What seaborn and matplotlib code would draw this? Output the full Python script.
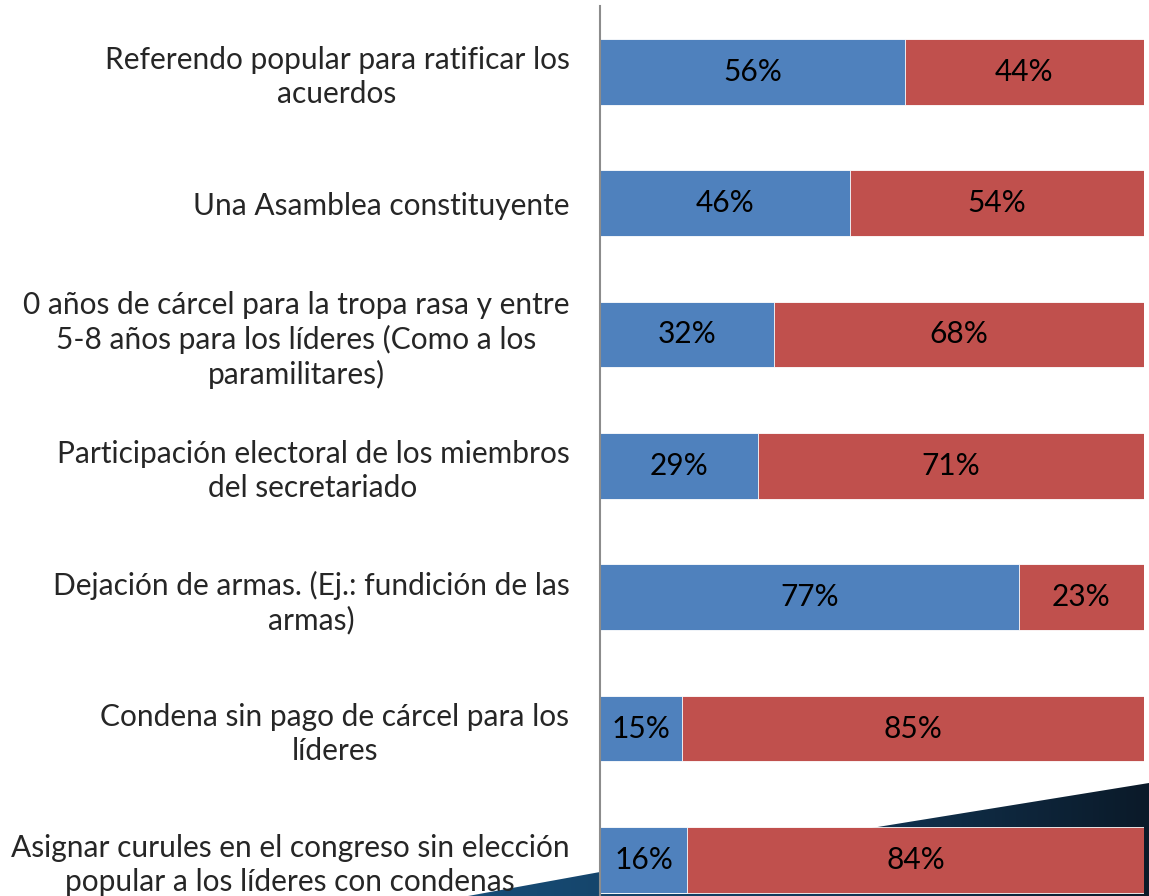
import matplotlib
matplotlib.use("Agg")
import matplotlib.pyplot as plt
import seaborn as sns
import numpy as np
import pandas as pd
from matplotlib.patches import Polygon
from matplotlib.colors import LinearSegmentedColormap

# data
categories = [
    "Referendo popular para ratificar los\nacuerdos",
    "Una Asamblea constituyente",
    "0 años de cárcel para la tropa rasa y entre\n5-8 años para los líderes (Como a los\nparamilitares)",
    "Participación electoral de los miembros\ndel secretariado",
    "Dejación de armas. (Ej.: fundición de las\narmas)",
    "Condena sin pago de cárcel para los\nlíderes",
    "Asignar curules en el congreso sin elección\npopular a los líderes con condenas",
]
si_values = [56, 46, 32, 29, 77, 15, 16]
no_values = [44, 54, 68, 71, 23, 85, 84]

blue = "#4F81BD"
red = "#C0504D"

df = pd.DataFrame({"cat": categories, "si": si_values, "no": no_values})
df["total"] = df["si"] + df["no"]

sns.set_style("white")
plt.rcParams["font.family"] = ["Lato", "DejaVu Sans"]

fig = plt.figure(figsize=(11.49, 8.96), dpi=100)

# dark slide decoration in the bottom right corner (gradient wedge)
bg = fig.add_axes([0, 0, 1, 1], zorder=-1)
bg.set_xlim(0, 1149)
bg.set_ylim(0, 896)
bg.axis("off")
wedge = Polygon([(468, 0), (1149, 0), (1149, 113), (600, 24)], closed=True,
                facecolor="none", edgecolor="none")
bg.add_patch(wedge)
grad_cmap = LinearSegmentedColormap.from_list("deco", ["#174d77", "#12395a", "#0b1a29"])
grad = np.linspace(0, 1, 256).reshape(1, -1)
img = bg.imshow(grad, cmap=grad_cmap, extent=[468, 1149, 0, 113], aspect="auto")
img.set_clip_path(wedge)

ax = fig.add_axes([600 / 1149, -0.0331, 0.4735, 1.0264], zorder=1)
ax.set_facecolor("none")

sns.barplot(data=df, x="total", y="cat", color=red, width=0.5, saturation=1, ax=ax,
            edgecolor="white", linewidth=0.6)
sns.barplot(data=df, x="si", y="cat", color=blue, width=0.5, saturation=1, ax=ax,
            edgecolor="white", linewidth=0.6)

for i, (s, n) in enumerate(zip(si_values, no_values)):
    ax.text(s / 2, i, f"{s}%", ha="center", va="center", fontsize=21.5, color="black")
    ax.text(s + n / 2, i, f"{n}%", ha="center", va="center", fontsize=21.5, color="black")

ax.set_xlim(0, 100)
ax.set_ylim(6.5, -0.5)
ax.set_xlabel("")
ax.set_ylabel("")
ax.set_xticks([])
ax.tick_params(axis="y", length=0, pad=22, labelsize=21.5)
for lbl in ax.get_yticklabels():
    lbl.set_multialignment("center")
    lbl.set_linespacing(1.25)

for side in ["top", "right", "bottom"]:
    ax.spines[side].set_visible(False)
ax.spines["left"].set_color("#8c8c8c")
ax.spines["left"].set_linewidth(1.5)

fig.savefig("out.png", dpi=100)
